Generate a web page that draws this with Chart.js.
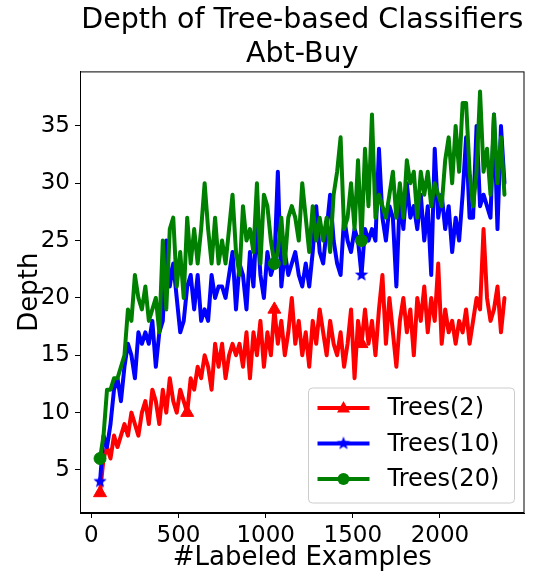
<!DOCTYPE html>
<html lang="en">
<head>
<meta charset="UTF-8">
<title>Depth of Tree-based Classifiers - Abt-Buy</title>
<script src="https://cdn.jsdelivr.net/npm/chart.js"></script>
<style>
    body { margin: 0; background: #fff; }
    #wrap { width: 533px; height: 575px; }
</style>
</head>
<body>
<div id="wrap"><canvas id="depthChart" width="533" height="575"></canvas></div>
<script>
// x values: number of labeled examples
const labeledExamples = [
    50, 70, 90, 110, 130, 150, 170, 190, 210, 230,
    250, 270, 290, 310, 330, 350, 370, 390, 410, 430,
    450, 470, 490, 510, 530, 550, 570, 590, 610, 630,
    650, 670, 690, 710, 730, 750, 770, 790, 810, 830,
    850, 870, 890, 910, 930, 950, 970, 990, 1010, 1030,
    1050, 1070, 1090, 1110, 1130, 1150, 1170, 1190, 1210, 1230,
    1250, 1270, 1290, 1310, 1330, 1350, 1370, 1390, 1410, 1430,
    1450, 1470, 1490, 1510, 1530, 1550, 1570, 1590, 1610, 1630,
    1650, 1670, 1690, 1710, 1730, 1750, 1770, 1790, 1810, 1830,
    1850, 1870, 1890, 1910, 1930, 1950, 1970, 1990, 2010, 2030,
    2050, 2070, 2090, 2110, 2130, 2150, 2170, 2190, 2210, 2230,
    2250, 2270, 2290, 2310, 2330, 2350, 2370
];

// tree depth per series
const trees2 = [
    3, 6, 7, 6, 8, 7, 8, 9, 8, 10,
    9, 8, 10, 11, 9, 12, 11, 9, 12, 10,
    13, 11, 10, 12, 11, 10, 13, 12, 14, 13,
    15, 14, 12, 16, 14, 16, 13, 15, 16, 15,
    16, 14, 17, 13, 17, 15, 18, 14, 17, 15,
    19, 16, 18, 15, 17, 20, 16, 18, 15, 17,
    14, 18, 16, 19, 17, 15, 18, 16, 15, 17,
    14, 16, 19, 13, 18, 16, 19, 16, 18, 15,
    19, 22, 16, 20, 17, 14, 18, 20, 17, 19,
    15, 20, 18, 21, 17, 20, 18, 23, 16, 19,
    17, 18, 16, 18, 17, 19, 16, 18, 20, 19,
    26, 20, 18, 19, 21, 17, 20
];
const trees10 = [
    4, 8, 7, 9, 12, 13, 11, 14, 16, 15,
    13, 17, 16, 17, 16, 18, 14, 17, 18, 25,
    21, 23, 20, 17, 18, 21, 22, 19, 22, 18,
    19, 18, 22, 20, 21, 21, 20, 22, 24, 19,
    23, 22, 19, 24, 21, 27, 22, 20, 24, 22,
    23, 31, 21, 24, 22, 23, 24, 22, 21, 23,
    21, 24, 28, 24, 23, 26, 29, 25, 23, 22,
    27, 25, 24, 26, 25, 22, 26, 25, 26, 25,
    33, 27, 25, 28, 27, 21, 29, 26, 30, 27,
    28, 26, 29, 25, 28, 22, 33, 27, 29, 26,
    28, 24, 27, 25, 29, 34, 27, 27, 35, 28,
    29, 28, 27, 36, 26, 35, 30
];
const trees20 = [
    6, 8, 12, 12, 13, 13, 14, 15, 19, 18,
    22, 20, 19, 21, 18, 19, 20, 17, 25, 19,
    26, 27, 21, 24, 20, 27, 23, 26, 23, 26,
    30, 26, 23, 27, 23, 25, 23, 26, 29, 24,
    22, 28, 25, 26, 24, 30, 23, 29, 28, 25,
    23, 24, 27, 23, 27, 28, 27, 25, 30, 27,
    24, 28, 25, 27, 25, 27, 24, 29, 31, 34,
    26, 27, 30, 26, 32, 25, 33, 28, 36, 27,
    29, 28, 27, 29, 31, 27, 30, 27, 32, 30,
    31, 27, 31, 29, 31, 28, 30, 29, 28, 32,
    34, 30, 35, 31, 37, 37, 31, 28, 31, 38,
    31, 33, 29, 36, 30, 34, 29
];

// where each series shows a marker (labeled examples)
const trees2Marks = [50, 550, 1050, 1550];
const trees10Marks = [50, 1550];
const trees20Marks = [50, 1050, 1550];

const seriesLabels = ['Trees(2)', 'Trees(10)', 'Trees(20)'];
const xTicks = [0, 500, 1000, 1500, 2000];
const yTicks = [5, 10, 15, 20, 25, 30, 35];

const FONT = "'DejaVu Sans', sans-serif";

// filled five-point star, like matplotlib's '*' marker
function makeStar(color, outer, inner) {
    const c = document.createElement('canvas');
    const s = Math.ceil(outer * 2 + 2);
    c.width = s;
    c.height = s;
    const g = c.getContext('2d');
    g.fillStyle = color;
    g.beginPath();
    for (let i = 0; i < 10; i++) {
        const r = i % 2 === 0 ? outer : inner;
        const a = -Math.PI / 2 + i * Math.PI / 5;
        const px = s / 2 + r * Math.cos(a);
        const py = s / 2 + r * Math.sin(a);
        if (i === 0) g.moveTo(px, py); else g.lineTo(px, py);
    }
    g.closePath();
    g.fill();
    return c;
}
const blueStar = makeStar('#0000ff', 7, 3);

function toPoints(values) {
    return values.map((v, i) => ({ x: labeledExamples[i], y: v }));
}

function markerRadius(marks, r) {
    return ctx => (marks.includes(labeledExamples[ctx.dataIndex]) ? r : 0);
}

// box around the axes (all four spines)
const framePlugin = {
    id: 'frame',
    afterDatasetsDraw(chart) {
        const a = chart.chartArea;
        const g = chart.ctx;
        g.save();
        g.strokeStyle = '#000';
        g.lineWidth = 1;
        g.strokeRect(a.left + 0.5, a.top + 0.5, a.right - a.left - 1, a.bottom - a.top - 1);
        g.restore();
    }
};

// legend in the lower right corner of the axes
const legendPlugin = {
    id: 'cornerLegend',
    afterDraw(chart) {
        const a = chart.chartArea;
        const g = chart.ctx;
        const w = 206, h = 115;
        const left = a.right - 10 - w;
        const top = a.bottom - 10 - h;
        const r = 4;

        g.save();
        g.beginPath();
        g.moveTo(left + r, top);
        g.arcTo(left + w, top, left + w, top + h, r);
        g.arcTo(left + w, top + h, left, top + h, r);
        g.arcTo(left, top + h, left, top, r);
        g.arcTo(left, top, left + w, top, r);
        g.closePath();
        g.fillStyle = 'rgba(255,255,255,0.8)';
        g.fill();
        g.strokeStyle = '#cccccc';
        g.lineWidth = 1;
        g.stroke();

        chart.data.datasets.forEach((ds, i) => {
            const y = top + 20 + i * 35.5;
            g.strokeStyle = ds.borderColor;
            g.lineWidth = 4;
            g.beginPath();
            g.moveTo(left + 9, y);
            g.lineTo(left + 61, y);
            g.stroke();

            const mx = left + 35;
            g.fillStyle = ds.borderColor;
            if (ds.pointStyle === 'triangle') {
                g.beginPath();
                g.moveTo(mx, y - 7);
                g.lineTo(mx + 6.5, y + 4.5);
                g.lineTo(mx - 6.5, y + 4.5);
                g.closePath();
                g.fill();
            } else if (ds.pointStyle === 'circle') {
                g.beginPath();
                g.arc(mx, y, 6, 0, Math.PI * 2);
                g.fill();
            } else {
                g.drawImage(blueStar, mx - blueStar.width / 2, y - blueStar.height / 2);
            }

            g.fillStyle = '#000';
            g.font = '24px ' + FONT;
            g.textBaseline = 'middle';
            g.textAlign = 'left';
            g.fillText(ds.label, left + 79, y + 1);
        });
        g.restore();
    }
};

const lineStyle = {
    borderWidth: 4,
    borderJoinStyle: 'round',
    borderCapStyle: 'round',
    tension: 0,
    pointBorderWidth: 1,
    pointHoverRadius: 0
};

const ctx = document.getElementById('depthChart').getContext('2d');
const depthChart = new Chart(ctx, {
    type: 'line',
    data: {
        datasets: [
            Object.assign({
                label: seriesLabels[0],
                data: toPoints(trees2),
                borderColor: '#ff0000',
                backgroundColor: '#ff0000',
                pointStyle: 'triangle',
                pointRadius: markerRadius(trees2Marks, 7.5),
                order: 2
            }, lineStyle),
            Object.assign({
                label: seriesLabels[1],
                data: toPoints(trees10),
                borderColor: '#0000ff',
                backgroundColor: '#0000ff',
                pointStyle: blueStar,
                pointRadius: markerRadius(trees10Marks, 6),
                order: 1
            }, lineStyle),
            Object.assign({
                label: seriesLabels[2],
                data: toPoints(trees20),
                borderColor: '#008000',
                backgroundColor: '#008000',
                pointStyle: 'circle',
                pointRadius: markerRadius(trees20Marks, 6),
                order: 0
            }, lineStyle)
        ]
    },
    options: {
        responsive: false,
        animation: false,
        devicePixelRatio: 1,
        layout: { padding: { left: 0, right: 8, top: 0, bottom: 0 } },
        plugins: {
            legend: { display: false },
            tooltip: { enabled: false },
            title: {
                display: true,
                fullSize: false,
                text: ['Depth of Tree-based Classifiers', 'Abt-Buy'],
                color: '#000',
                font: { family: FONT, size: 28.5, weight: 'normal', lineHeight: 1.2 },
                padding: { top: 3, bottom: 0 }
            }
        },
        scales: {
            x: {
                type: 'linear',
                min: -65,
                max: 2485,
                afterBuildTicks: s => { s.ticks = xTicks.map(v => ({ value: v })); },
                afterFit: s => { s.height = 62; },
                ticks: {
                    color: '#000',
                    font: { family: FONT, size: 23 },
                    padding: 4,
                    maxRotation: 0,
                    autoSkip: false,
                    callback: v => String(v)
                },
                grid: { drawOnChartArea: false, tickLength: 5, color: '#000', lineWidth: 1 },
                border: { color: '#000', width: 1 },
                title: {
                    display: true,
                    text: '#Labeled Examples',
                    color: '#000',
                    font: { family: FONT, size: 26 },
                    padding: { top: 0, bottom: 1 }
                }
            },
            y: {
                type: 'linear',
                min: 1.25,
                max: 39.75,
                afterBuildTicks: s => { s.ticks = yTicks.map(v => ({ value: v })); },
                afterFit: s => { s.width = 80; },
                ticks: {
                    color: '#000',
                    font: { family: FONT, size: 23 },
                    padding: 5,
                    callback: v => String(v)
                },
                grid: { drawOnChartArea: false, tickLength: 5, color: '#000', lineWidth: 1 },
                border: { color: '#000', width: 1 },
                title: {
                    display: true,
                    text: 'Depth',
                    color: '#000',
                    font: { family: FONT, size: 26 },
                    padding: { top: 15, bottom: 0 }
                }
            }
        }
    },
    plugins: [framePlugin, legendPlugin]
});
</script>
</body>
</html>
